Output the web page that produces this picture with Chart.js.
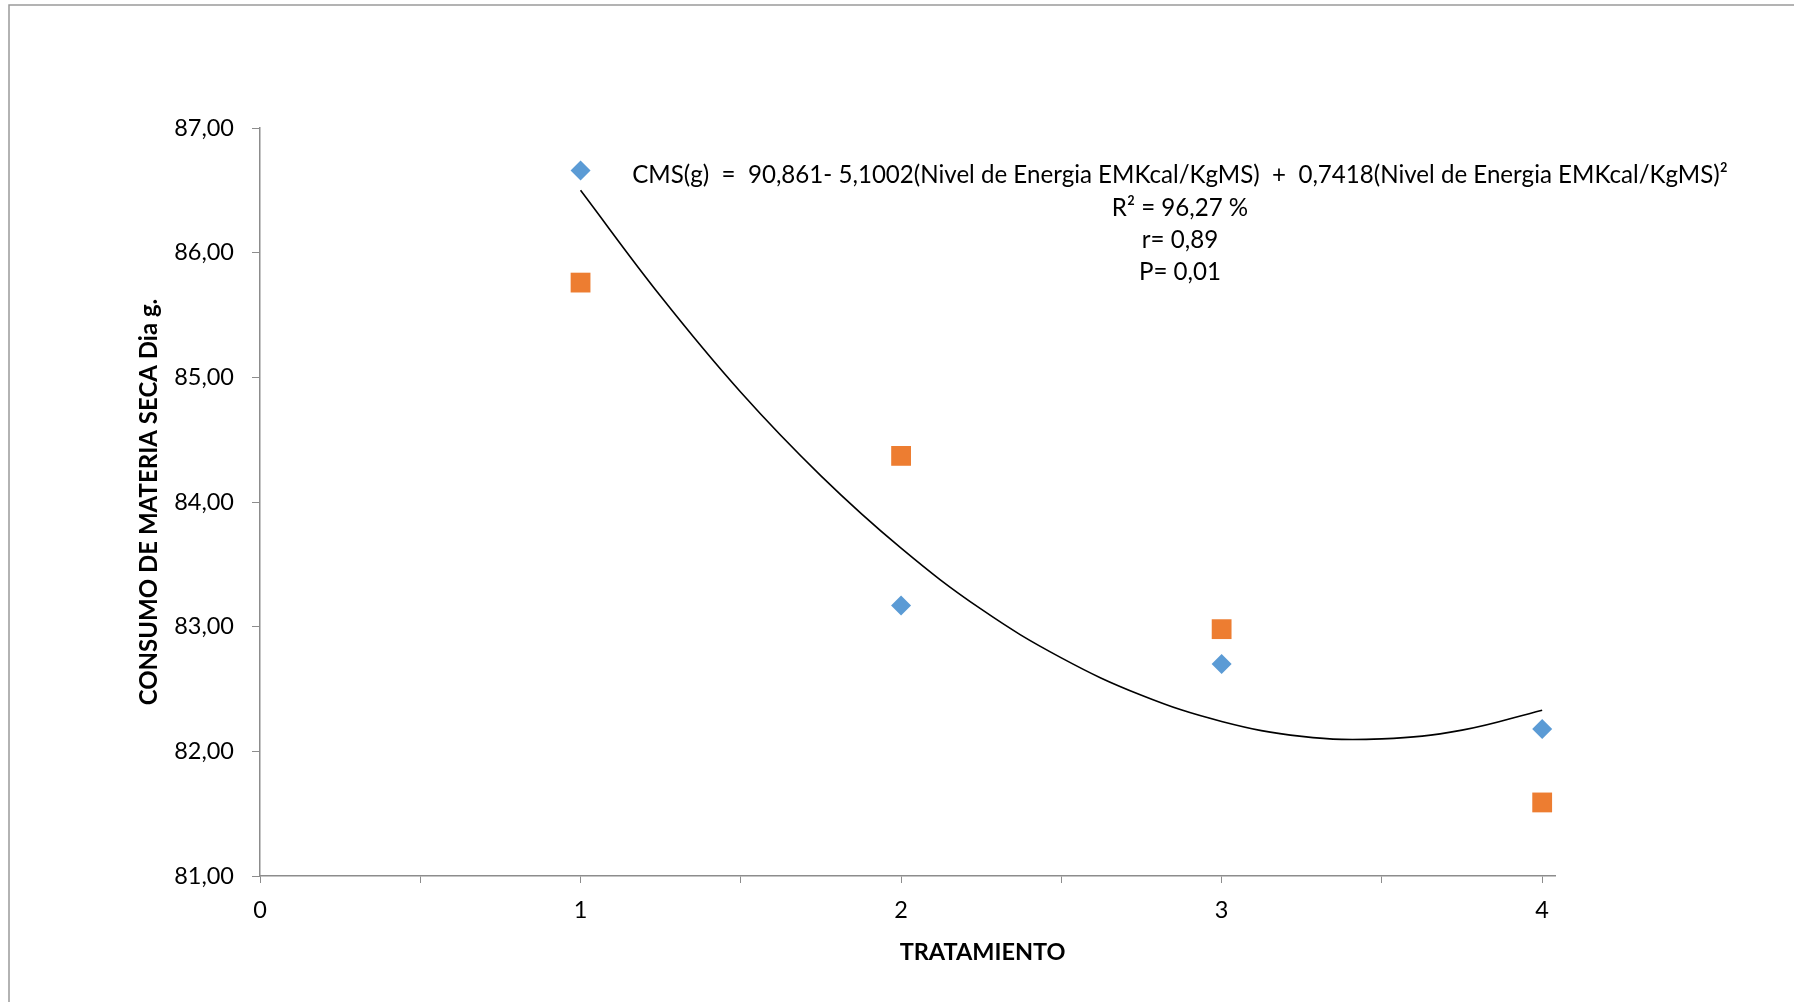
<!DOCTYPE html>
<html>
<head>
<meta charset="utf-8">
<script src="https://cdn.jsdelivr.net/npm/chart.js@4/dist/chart.umd.min.js"></script>
<style>
  html, body { margin: 0; padding: 0; background: #ffffff; }
  #wrap { width: 1794px; height: 1002px; position: relative; }
</style>
</head>
<body>
<div id="wrap"><canvas id="c" width="1794" height="1002"></canvas></div>
<script>
// ---- data ----
const treatments = [1, 2, 3, 4];
const serieA = [86.66, 83.17, 82.70, 82.18];   // blue diamonds
const serieB = [85.76, 84.37, 82.98, 81.59];   // orange squares
const trendX = [1, 1.25, 1.5, 1.75, 2, 2.25, 2.5, 2.75, 3, 3.25, 3.5, 3.75, 4];
const trendY = [86.50, 85.65, 84.88, 84.21, 83.63, 83.14, 82.75, 82.45, 82.24, 82.12, 82.10, 82.17, 82.33];
const xTickValues = [0, 0.5, 1, 1.5, 2, 2.5, 3, 3.5, 4];
const yTickValues = [81, 82, 83, 84, 85, 86, 87];
const equationLines = [
  "CMS(g)  =  90,861- 5,1002(Nivel de Energia EMKcal/KgMS)  +  0,7418(Nivel de Energia EMKcal/KgMS)\u00B2",
  "R\u00B2 = 96,27 %",
  "r= 0,89",
  "P= 0,01"
];
const xTitle = "TRATAMIENTO";
const yTitle = "CONSUMO DE MATERIA SECA Dia g.";

const FONT = "Lato, 'Open Sans', 'DejaVu Sans', sans-serif";
const AXIS_GRAY = "#8c8c8c";

const toPts = (xs, ys) => xs.map((x, i) => ({ x: x, y: ys[i] }));

const decorPlugin = {
  id: 'decor',
  beforeDraw(chart) {
    const ctx = chart.ctx;
    ctx.save();
    ctx.fillStyle = '#ffffff';
    ctx.fillRect(0, 0, chart.width, chart.height);
    // outer frame (top and left edges visible)
    ctx.strokeStyle = '#9a9a9a';
    ctx.lineWidth = 1.5;
    ctx.beginPath();
    ctx.moveTo(9, chart.height + 5);
    ctx.lineTo(9, 5);
    ctx.lineTo(chart.width + 5, 5);
    ctx.stroke();
    ctx.restore();
  },
  afterDraw(chart) {
    const ctx = chart.ctx;
    const ca = chart.chartArea;
    ctx.save();
    ctx.fillStyle = '#000000';
    ctx.textAlign = 'center';
    ctx.textBaseline = 'middle';
    // equation block
    let size = 22;
    ctx.font = size + 'px ' + FONT;
    const w = ctx.measureText(equationLines[0]).width;
    size = Math.max(16, Math.min(26, size * 1096 / w));
    ctx.font = size + 'px ' + FONT;
    const cx = 1180;
    const ys = [175, 208, 240, 272];
    equationLines.forEach((t, i) => ctx.fillText(t, cx, ys[i]));
    // x axis title (offset to the right as in the reference)
    ctx.font = 'bold 23.5px ' + FONT;
    ctx.fillText(xTitle, ca.left + (ca.right - ca.left) * 0.558, 952);
    ctx.restore();
  }
};

new Chart(document.getElementById('c'), {
  type: 'scatter',
  data: {
    datasets: [
      {
        label: 'Tendencia',
        type: 'line',
        data: toPts(trendX, trendY),
        borderColor: '#000000',
        borderWidth: 1.6,
        pointRadius: 0,
        tension: 0.4,
        fill: false,
        order: 3
      },
      {
        label: 'Serie 1',
        data: toPts(treatments, serieA),
        pointStyle: 'rectRot',
        pointRadius: 10,
        pointHoverRadius: 10,
        backgroundColor: '#5B9BD5',
        borderColor: '#5B9BD5',
        borderWidth: 0,
        order: 1
      },
      {
        label: 'Serie 2',
        data: toPts(treatments, serieB),
        pointStyle: 'rect',
        pointRadius: 14,
        pointHoverRadius: 14,
        backgroundColor: '#ED7D31',
        borderColor: '#ED7D31',
        borderWidth: 0,
        order: 2
      }
    ]
  },
  options: {
    responsive: false,
    animation: false,
    events: [],
    layout: { padding: { top: 128, right: 239, bottom: 0, left: 0 } },
    plugins: {
      legend: { display: false },
      tooltip: { enabled: false },
      title: { display: false }
    },
    scales: {
      x: {
        type: 'linear',
        min: 0,
        max: 4.04,
        afterBuildTicks(scale) { scale.ticks = xTickValues.map(v => ({ value: v })); },
        afterFit(scale) { scale.height = 126; },
        border: { display: true, color: AXIS_GRAY, width: 1.5 },
        grid: { display: true, drawOnChartArea: false, drawTicks: true, tickLength: 7, color: AXIS_GRAY, lineWidth: 1 },
        ticks: {
          color: '#000000',
          font: { family: FONT, size: 23.5 },
          padding: 13,
          maxRotation: 0,
          autoSkip: false,
          callback: (v) => Number.isInteger(v) ? String(v) : ''
        }
      },
      y: {
        type: 'linear',
        min: 81,
        max: 87,
        afterBuildTicks(scale) { scale.ticks = yTickValues.map(v => ({ value: v })); },
        afterFit(scale) { scale.width = 260; },
        border: { display: true, color: AXIS_GRAY, width: 1.5 },
        grid: { display: true, drawOnChartArea: false, drawTicks: true, tickLength: 8, color: AXIS_GRAY, lineWidth: 1 },
        ticks: {
          color: '#000000',
          font: { family: FONT, size: 23.5 },
          padding: 18,
          callback: (v) => v.toFixed(2).replace('.', ',')
        },
        title: {
          display: true,
          text: yTitle,
          color: '#000000',
          font: { family: FONT, size: 24, weight: 'bold' },
          padding: { top: 135, bottom: 0 }
        }
      }
    }
  },
  plugins: [decorPlugin]
});
</script>
</body>
</html>
